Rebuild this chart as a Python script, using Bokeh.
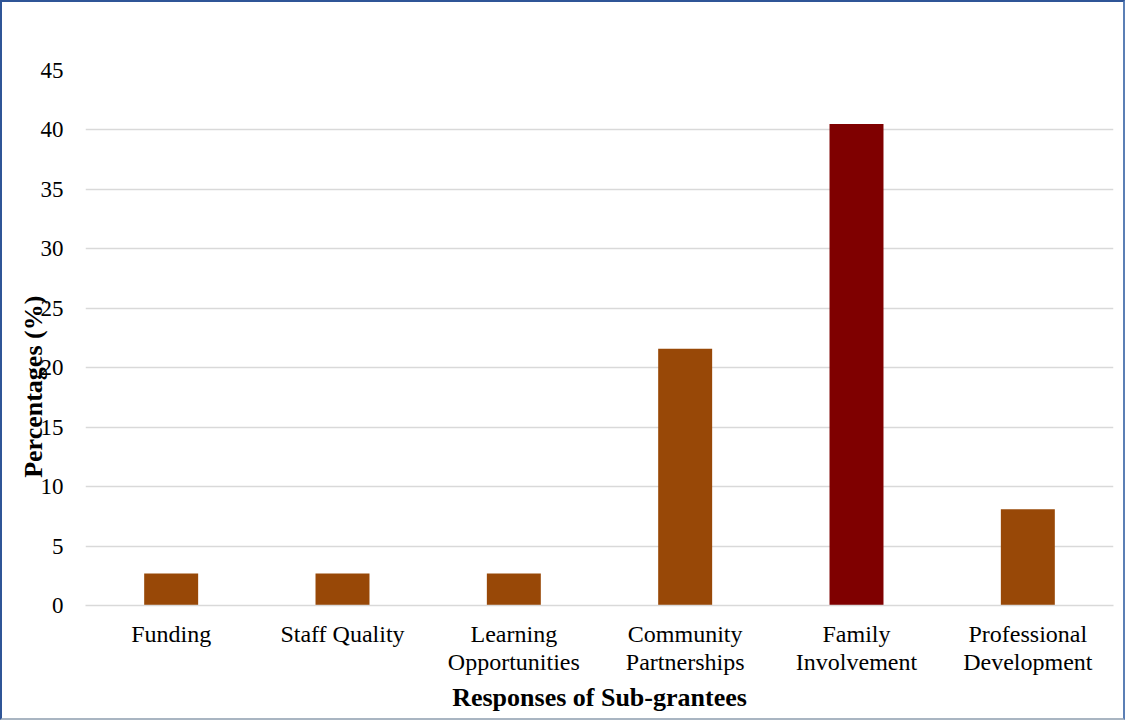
from bokeh.plotting import figure
from bokeh.models import FactorRange, FixedTicker, ColumnDataSource, CategoricalAxis, CustomJSTickFormatter
from bokeh.embed import file_html
from bokeh.resources import INLINE

categories = ["Funding", "Staff Quality", "Learning Opportunities", "Community Partnerships",
              "Family Involvement", "Professional Development"]
tick_line1 = ["Funding", "Staff Quality", "Learning", "Community", "Family", "Professional"]
tick_line2 = ["", "", "Opportunities", "Partnerships", "Involvement", "Development"]
values = [2.7, 2.7, 2.7, 21.6, 40.5, 8.1]
colors = ["#984807", "#984807", "#984807", "#984807", "#7F0000", "#984807"]
y_ticks = [0, 5, 10, 15, 20, 25, 30, 35, 40, 45]

FONT = "Liberation Serif"

src = ColumnDataSource(dict(cat=categories, val=values, color=colors))

p = figure(x_range=FactorRange(*categories, range_padding=0), y_range=(0, 45),
           width=1125, height=720, output_backend="svg", toolbar_location=None,
           min_border_left=83, min_border_right=14, min_border_top=68, min_border_bottom=117)
p.styles = {"border-top": "2px solid #2F5597", "border-left": "2px solid #2F5597",
            "border-right": "2px solid #5B7FB5", "border-bottom": "2px solid #A9B5C2"}

p.vbar(x="cat", top="val", width=0.315, fill_color="color", line_color=None, source=src)

p.outline_line_color = None
p.xgrid.grid_line_color = None
p.ygrid.grid_line_color = "#D9D9D9"
p.ygrid.grid_line_width = 1.5

p.yaxis.ticker = FixedTicker(ticks=y_ticks)
p.yaxis.axis_line_color = None
p.yaxis.major_tick_line_color = None
p.yaxis.minor_tick_line_color = None
p.yaxis.major_tick_out = 0
p.yaxis.major_label_standoff = 22
p.yaxis.major_label_text_font = FONT
p.yaxis.major_label_text_font_size = "23px"
p.yaxis.major_label_text_color = "#000000"
p.yaxis.axis_label = "Percentages (%)" + "\u00a0" * 15
p.yaxis.axis_label_text_font = FONT
p.yaxis.axis_label_text_font_size = "26px"
p.yaxis.axis_label_text_font_style = "bold"
p.yaxis.axis_label_text_color = "#000000"
p.yaxis.axis_label_standoff = -10

code = "const i = cats.indexOf(tick); return i >= 0 ? lines[i] : tick;"

p.xaxis.axis_line_color = "#D9D9D9"
p.xaxis.axis_line_width = 1.5
p.xaxis.major_tick_line_color = None
p.xaxis.major_tick_out = 0
p.xaxis.formatter = CustomJSTickFormatter(args=dict(cats=categories, lines=tick_line1), code=code)
p.xaxis.major_label_standoff = 15
p.xaxis.major_label_text_font = FONT
p.xaxis.major_label_text_font_size = "24px"
p.xaxis.major_label_text_color = "#000000"

ax2 = CategoricalAxis(axis_line_color=None, major_tick_line_color=None, major_tick_out=0,
                      formatter=CustomJSTickFormatter(args=dict(cats=categories, lines=tick_line2), code=code),
                      major_label_standoff=-1, major_label_text_font=FONT,
                      major_label_text_font_size="24px", major_label_text_color="#000000",
                      axis_label="Responses of Sub-grantees", axis_label_text_font=FONT,
                      axis_label_text_font_size="26px", axis_label_text_font_style="bold",
                      axis_label_text_color="#000000", axis_label_standoff=5)
p.add_layout(ax2, "below")

open("out.html", "w").write(file_html(p, INLINE))
